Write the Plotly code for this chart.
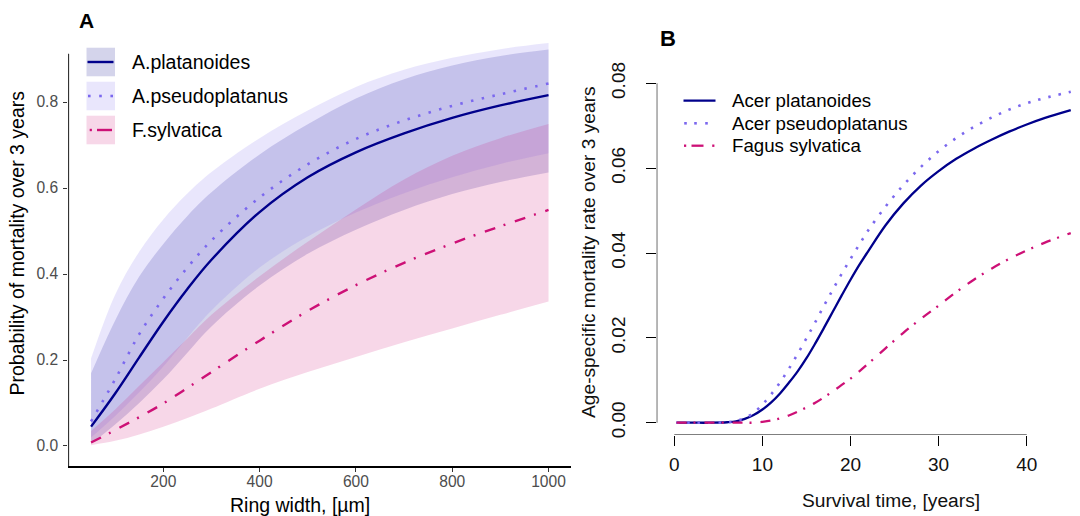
import plotly.graph_objects as go

# ---------------- Panel A data (ring width -> probability of mortality) ----------------
ring_width = [50, 100, 150, 200, 250, 300, 400, 500, 600, 700, 800, 900, 1000]

plat_fit = [0.045, 0.122, 0.206, 0.289, 0.365, 0.433, 0.544, 0.625, 0.683, 0.727, 0.763, 0.792, 0.816]
plat_lo = [0.005, 0.050, 0.100, 0.155, 0.217, 0.278, 0.373, 0.447, 0.503, 0.549, 0.586, 0.614, 0.636]
plat_hi = [0.169, 0.292, 0.394, 0.470, 0.535, 0.590, 0.678, 0.748, 0.808, 0.853, 0.885, 0.907, 0.922]

pseu_fit = [0.057, 0.155, 0.260, 0.343, 0.415, 0.478, 0.578, 0.655, 0.714, 0.757, 0.791, 0.818, 0.843]
pseu_lo = [0.020, 0.070, 0.125, 0.185, 0.252, 0.315, 0.415, 0.487, 0.543, 0.588, 0.625, 0.656, 0.681]
pseu_hi = [0.204, 0.352, 0.452, 0.527, 0.587, 0.637, 0.716, 0.780, 0.835, 0.875, 0.903, 0.923, 0.937]

sylv_fit = [0.008, 0.037, 0.067, 0.099, 0.135, 0.172, 0.245, 0.314, 0.374, 0.426, 0.471, 0.511, 0.549]
sylv_lo = [0.002, 0.012, 0.027, 0.045, 0.065, 0.087, 0.133, 0.172, 0.207, 0.241, 0.273, 0.305, 0.336]
sylv_hi = [0.035, 0.085, 0.140, 0.195, 0.250, 0.305, 0.395, 0.475, 0.550, 0.620, 0.675, 0.716, 0.749]

labels_a = ["A.platanoides", "A.pseudoplatanus", "F.sylvatica"]
xticks_a = [200, 400, 600, 800, 1000]
yticks_a = [0.0, 0.2, 0.4, 0.6, 0.8]
yticktext_a = ["0.0", "0.2", "0.4", "0.6", "0.8"]

# ---------------- Panel B data (survival time -> age-specific mortality) ----------------
surv_time = [0.25, 2, 4, 6, 7, 8, 9, 10, 11, 12, 13, 14, 15, 16, 17, 18, 19, 20, 21, 22,
             24, 26, 28, 30, 32, 34, 36, 38, 40, 42, 45]
rate_plat = [0, 0, 0, 0.0001, 0.0003, 0.0009, 0.0018, 0.0031, 0.0048, 0.0069, 0.0094, 0.0121,
             0.0152, 0.0187, 0.0224, 0.0262, 0.0300, 0.0337, 0.0372, 0.0404,
             0.0466, 0.0517, 0.0559, 0.0593, 0.0622, 0.0646, 0.0667, 0.0686, 0.0703, 0.0718, 0.0737]
rate_pseu = [0, 0, 0, 0.0001, 0.0004, 0.0011, 0.0023, 0.0043, 0.0067, 0.0095, 0.0127, 0.0162,
             0.0199, 0.0237, 0.0276, 0.0314, 0.0351, 0.0386, 0.0420, 0.0453,
             0.0510, 0.0560, 0.0603, 0.0640, 0.0671, 0.0697, 0.0719, 0.0738, 0.0753, 0.0765, 0.0780]
rate_sylv = [0, 0, 0, 0, 0, 0, 0, 0.0002, 0.0005, 0.0010, 0.0017, 0.0026,
             0.0036, 0.0047, 0.0060, 0.0074, 0.0089, 0.0104, 0.0121, 0.0139,
             0.0176, 0.0212, 0.0245, 0.0276, 0.0308, 0.0337, 0.0363, 0.0386, 0.0406, 0.0424, 0.0447]

labels_b = ["Acer platanoides", "Acer pseudoplatanus", "Fagus sylvatica"]
xticks_b = [0, 10, 20, 30, 40]
yticks_b = [0.0, 0.02, 0.04, 0.06, 0.08]
yticktext_b = ["0.00", "0.02", "0.04", "0.06", "0.08"]

# ---------------- styles ----------------
FONT = "Liberation Sans, Arial, Helvetica, sans-serif"
W, H = 1080, 516
C_PLAT = "#00008B"
C_PSEU = "#7B68EE"
C_SYLV = "#CD1076"
F_PLAT = "rgba(0,0,139,0.17)"
F_PSEU = "rgba(123,104,238,0.17)"
F_SYLV = "rgba(205,16,118,0.17)"
DOT_A = "2.5px,8.5px"
DASHDOT_A = "11px,9px,2px,10px"
DOT_B = "2.5px,8px"
DASHDOT_B = "10px,7px,2px,9px"


def px(x):
    return x / W


def py(y):
    return 1 - y / H


fig = go.Figure()

# ribbons (panel A)
for lo, hi, fc in [(plat_lo, plat_hi, F_PLAT), (pseu_lo, pseu_hi, F_PSEU), (sylv_lo, sylv_hi, F_SYLV)]:
    fig.add_trace(go.Scatter(x=ring_width, y=lo, mode="lines", line=dict(width=0, shape="spline"),
                             showlegend=False, hoverinfo="skip", xaxis="x", yaxis="y"))
    fig.add_trace(go.Scatter(x=ring_width, y=hi, mode="lines", line=dict(width=0, shape="spline"),
                             fill="tonexty", fillcolor=fc, showlegend=False, hoverinfo="skip",
                             xaxis="x", yaxis="y"))

# fitted lines (panel A)
for yy, col, dash, name in [(plat_fit, C_PLAT, "solid", labels_a[0]),
                            (pseu_fit, C_PSEU, DOT_A, labels_a[1]),
                            (sylv_fit, C_SYLV, DASHDOT_A, labels_a[2])]:
    fig.add_trace(go.Scatter(x=ring_width, y=yy, mode="lines", name=name,
                             line=dict(color=col, width=2.4 if dash != DOT_A else 2.6, dash=dash, shape="spline"),
                             showlegend=False, xaxis="x", yaxis="y"))

# lines (panel B)
for yy, col, dash, name in [(rate_plat, C_PLAT, "solid", labels_b[0]),
                            (rate_pseu, C_PSEU, DOT_B, labels_b[1]),
                            (rate_sylv, C_SYLV, DASHDOT_B, labels_b[2])]:
    fig.add_trace(go.Scatter(x=surv_time, y=yy, mode="lines", name=name,
                             line=dict(color=col, width=2.3 if dash != DOT_B else 2.6, dash=dash, shape="spline"),
                             showlegend=False, xaxis="x2", yaxis="y2"))

shapes = []
annotations = []

# panel A y axis line (partial, as in the reference)
shapes.append(dict(type="line", xref="x", yref="y", x0=2.5, x1=2.5, y0=-0.047, y1=0.912,
                   line=dict(color="black", width=1.8)))
# panel B axis lines (R style: from first to last tick)
shapes.append(dict(type="line", xref="x2", yref="y2", x0=xticks_b[0], x1=xticks_b[-1], y0=-0.0029, y1=-0.0029,
                   line=dict(color="black", width=1.2)))
shapes.append(dict(type="line", xref="x2", yref="y2", x0=-2.0, x1=-2.0, y0=yticks_b[0], y1=yticks_b[-1],
                   line=dict(color="black", width=1.2)))

# legend A
key_rows_a = [62, 96, 130]
key_fill_a = [F_PLAT, F_PSEU, F_SYLV]
key_col_a = [C_PLAT, C_PSEU, C_SYLV]
for i, (yc, fc, lc, lab) in enumerate(zip(key_rows_a, key_fill_a, key_col_a, labels_a)):
    shapes.append(dict(type="rect", xref="paper", yref="paper", x0=px(86.5), x1=px(115),
                       y0=py(yc + 14.3), y1=py(yc - 14.3), line=dict(width=0), fillcolor=fc))
    if i == 0:
        shapes.append(dict(type="line", xref="paper", yref="paper", x0=px(87.5), x1=px(113.5),
                           y0=py(yc), y1=py(yc), line=dict(color=lc, width=2.4)))
    elif i == 1:
        for xd in [89.3, 100.5, 111.7]:
            shapes.append(dict(type="rect", xref="paper", yref="paper", x0=px(xd - 1.3), x1=px(xd + 1.3),
                               y0=py(yc + 1.3), y1=py(yc - 1.3), line=dict(width=0), fillcolor=lc))
    else:
        shapes.append(dict(type="rect", xref="paper", yref="paper", x0=px(89.7), x1=px(91.9),
                           y0=py(yc + 1.2), y1=py(yc - 1.2), line=dict(width=0), fillcolor=lc))
        shapes.append(dict(type="line", xref="paper", yref="paper", x0=px(97), x1=px(112),
                           y0=py(yc), y1=py(yc), line=dict(color=lc, width=2.4)))
    annotations.append(dict(text=lab, xref="paper", yref="paper", x=px(130), y=py(yc),
                            xanchor="left", yanchor="middle", showarrow=False,
                            font=dict(family=FONT, size=19.5, color="black")))

# legend B
key_rows_b = [100.7, 123.3, 145.7]
for i, (yc, lc, lab) in enumerate(zip(key_rows_b, key_col_a, labels_b)):
    if i == 0:
        shapes.append(dict(type="line", xref="paper", yref="paper", x0=px(683.5), x1=px(715.5),
                           y0=py(yc), y1=py(yc), line=dict(color=lc, width=2.3)))
    elif i == 1:
        for xd in [685.5, 695.5, 706.5]:
            shapes.append(dict(type="rect", xref="paper", yref="paper", x0=px(xd - 1.3), x1=px(xd + 1.3),
                               y0=py(yc + 1.3), y1=py(yc - 1.3), line=dict(width=0), fillcolor=lc))
    else:
        shapes.append(dict(type="rect", xref="paper", yref="paper", x0=px(684), x1=px(686.2),
                           y0=py(yc + 1.2), y1=py(yc - 1.2), line=dict(width=0), fillcolor=lc))
        shapes.append(dict(type="line", xref="paper", yref="paper", x0=px(691.5), x1=px(703.5),
                           y0=py(yc), y1=py(yc), line=dict(color=lc, width=2.3)))
        shapes.append(dict(type="rect", xref="paper", yref="paper", x0=px(712.2), x1=px(714.4),
                           y0=py(yc + 1.2), y1=py(yc - 1.2), line=dict(width=0), fillcolor=lc))
    annotations.append(dict(text=lab, xref="paper", yref="paper", x=px(729.5), y=py(yc),
                            xanchor="left", yanchor="middle", showarrow=False,
                            font=dict(family=FONT, size=18.7, color="black")))

# titles and panel letters
annotations += [
    dict(text="<b>A</b>", x=px(86), y=py(21), xref="paper", yref="paper", showarrow=False,
         xanchor="center", yanchor="middle", font=dict(family=FONT, size=21, color="black")),
    dict(text="<b>B</b>", x=px(667.5), y=py(38), xref="paper", yref="paper", showarrow=False,
         xanchor="center", yanchor="middle", font=dict(family=FONT, size=22, color="black")),
    dict(text="Probability of mortality over 3 years", x=px(17), y=py(243.5), xref="paper", yref="paper",
         textangle=-90, showarrow=False, xanchor="center", yanchor="middle",
         font=dict(family=FONT, size=19.5, color="black")),
    dict(text="Ring width, [µm]", x=px(300), y=py(505), xref="paper", yref="paper",
         showarrow=False, xanchor="center", yanchor="middle",
         font=dict(family=FONT, size=19.5, color="black")),
    dict(text="Age-specific mortality rate over 3 years", x=px(588.3), y=py(251.7), xref="paper", yref="paper",
         textangle=-90, showarrow=False, xanchor="center", yanchor="middle",
         font=dict(family=FONT, size=19.2, color="#111111")),
    dict(text="Survival time, [years]", x=px(890.8), y=py(500), xref="paper", yref="paper",
         showarrow=False, xanchor="center", yanchor="middle",
         font=dict(family=FONT, size=19.2, color="#111111")),
]

fig.update_layout(
    width=W, height=H, margin=dict(l=0, r=0, t=0, b=0, autoexpand=False),
    paper_bgcolor="white", plot_bgcolor="white", showlegend=False,
    font=dict(family=FONT),
    xaxis=dict(domain=[px(68.2), px(571.4)], range=[2.5, 1047.5], anchor="y", automargin=False,
               tickvals=xticks_a, ticks="outside", ticklen=4, tickwidth=1.3, tickcolor="#333333",
               ticklabelstandoff=-4,
               tickfont=dict(family=FONT, size=15.6, color="#4D4D4D"),
               showline=True, linecolor="black", linewidth=1.8, showgrid=False, zeroline=False),
    yaxis=dict(domain=[py(466.2), py(22.9)], range=[-0.047, 0.984], anchor="x", automargin=False,
               tickvals=yticks_a, ticktext=yticktext_a, ticks="outside", ticklen=4, tickwidth=1.3,
               ticklabelstandoff=2,
               tickcolor="#333333", tickfont=dict(family=FONT, size=15.6, color="#4D4D4D"),
               showline=False, showgrid=False, zeroline=False),
    xaxis2=dict(domain=[px(656.7), 1.0], range=[-2.0, 46.05], anchor="y2", automargin=False,
                tickvals=xticks_b, ticks="outside", ticklen=10, tickwidth=1.2, tickcolor="black",
                ticklabelstandoff=2,
                tickfont=dict(family=FONT, size=19, color="#111111"),
                showline=False, showgrid=False, zeroline=False),
    yaxis2=dict(domain=[py(435), py(78)], range=[-0.0029, 0.08125], anchor="x2", automargin=False,
                tickvals=yticks_b, ticktext=yticktext_b, tickangle=-90, ticks="outside", ticklen=10,
                ticklabelstandoff=13,
                tickwidth=1.2, tickcolor="black", tickfont=dict(family=FONT, size=19, color="#111111"),
                showline=False, showgrid=False, zeroline=False),
    shapes=shapes, annotations=annotations,
)

fig.write_html("out.html")
